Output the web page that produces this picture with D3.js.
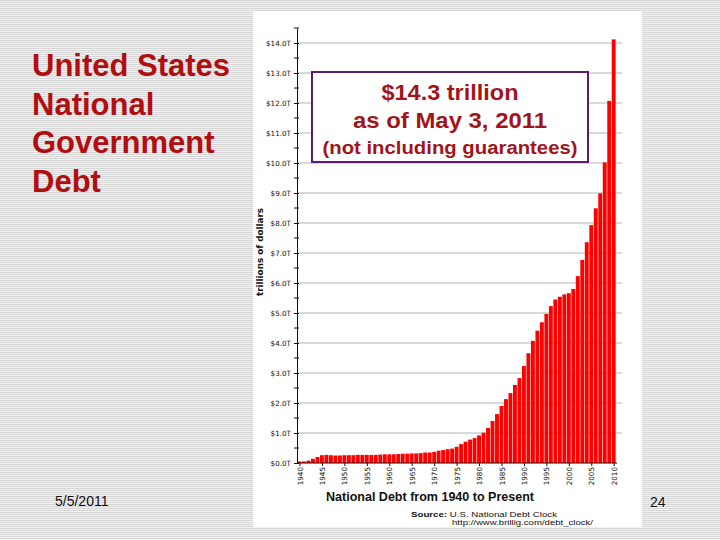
<!DOCTYPE html>
<html>
<head>
<meta charset="utf-8">
<script src="https://cdn.jsdelivr.net/npm/d3@7"></script>
<style>
  html, body { margin: 0; padding: 0; background: #fff; }
  svg { display: block; }
</style>
</head>
<body>
<svg id="chart" width="720" height="540"></svg>
<script>
// ---------- data ----------
const years = [1940,1941,1942,1943,1944,1945,1946,1947,1948,1949,
               1950,1951,1952,1953,1954,1955,1956,1957,1958,1959,
               1960,1961,1962,1963,1964,1965,1966,1967,1968,1969,
               1970,1971,1972,1973,1974,1975,1976,1977,1978,1979,
               1980,1981,1982,1983,1984,1985,1986,1987,1988,1989,
               1990,1991,1992,1993,1994,1995,1996,1997,1998,1999,
               2000,2001,2002,2003,2004,2005,2006,2007,2008,2009,2010];
// national debt, trillions of dollars
const debt = [0.05,0.05,0.08,0.14,0.20,0.26,0.27,0.26,0.25,0.25,
              0.26,0.26,0.26,0.27,0.27,0.27,0.27,0.27,0.28,0.29,
              0.29,0.29,0.30,0.31,0.31,0.32,0.32,0.33,0.35,0.35,
              0.37,0.41,0.43,0.46,0.48,0.54,0.63,0.71,0.78,0.83,
              0.92,1.01,1.17,1.40,1.63,1.90,2.13,2.33,2.60,2.83,
              3.23,3.66,4.07,4.41,4.69,4.97,5.23,5.45,5.54,5.62,
              5.66,5.80,6.23,6.77,7.36,7.93,8.49,8.99,10.02,12.07,14.12];
const yTickValues = [0,1,2,3,4,5,6,7,8,9,10,11,12,13,14];
const yTickLabels = ["$0.0T","$1.0T","$2.0T","$3.0T","$4.0T","$5.0T","$6.0T","$7.0T",
                     "$8.0T","$9.0T","$10.0T","$11.0T","$12.0T","$13.0T","$14.0T"];
const yMinorTicks = [0.5,1.5,2.5,3.5,4.5,5.5,6.5,7.5,8.5,9.5,10.5,11.5,12.5,13.5,14.5];
const xTickYears = [1940,1945,1950,1955,1960,1965,1970,1975,1980,1985,1990,1995,2000,2005,2010];
const slideTitle = ["United States","National","Government","Debt"];
const noteLines = ["$14.3 trillion","as of May 3, 2011","(not including guarantees)"];

// ---------- svg ----------
const svg = d3.select("#chart");
const defs = svg.append("defs");
const pat = defs.append("pattern").attr("id","stripes")
  .attr("width",4).attr("height",2).attr("patternUnits","userSpaceOnUse");
pat.append("rect").attr("width",4).attr("height",2).attr("fill","#f2f2f2");
pat.append("rect").attr("width",4).attr("height",1).attr("fill","#d6d6d6");

svg.append("rect").attr("width",720).attr("height",540).attr("fill","url(#stripes)");

// slide title
const title = svg.append("text")
  .attr("font-family","Liberation Sans, Arial, sans-serif")
  .attr("font-weight","bold").attr("font-size",31).attr("fill","#b40d0f");
slideTitle.forEach((t,i)=>{
  title.append("tspan").attr("x",32).attr("y",76 + i*38.5).text(t);
});

svg.append("text").attr("x",55).attr("y",506)
  .attr("font-family","Liberation Sans, Arial, sans-serif")
  .attr("font-size",14).attr("fill","#111").text("5/5/2011");
svg.append("text").attr("x",650).attr("y",507)
  .attr("font-family","Liberation Sans, Arial, sans-serif")
  .attr("font-size",14).attr("fill","#111").text("24");

// white chart panel
svg.append("rect").attr("x",253).attr("y",11).attr("width",389).attr("height",516)
  .attr("fill","#fff");

// ---------- scales ----------
const x = d3.scaleLinear().domain([1940, 2010]).range([299.5, 613.7]);
const y = d3.scaleLinear().domain([0, 14.5]).range([463, 28]);
const barW = 3.9;

// gridlines
svg.append("g").selectAll("line").data(yTickValues.filter(v=>v>0)).join("line")
  .attr("x1",297).attr("x2",622)
  .attr("y1",d=>y(d)).attr("y2",d=>y(d))
  .attr("stroke","#b5b5b5").attr("stroke-width",1);

// bars
svg.append("g").selectAll("rect").data(years).join("rect")
  .attr("x",(d)=>x(d)-barW/2)
  .attr("width",barW)
  .attr("y",(d,i)=>y(debt[i]))
  .attr("height",(d,i)=>y(0)-y(debt[i]))
  .attr("fill","#ff0000");

// y axis
const yAxis = d3.axisLeft(y).tickValues(yTickValues)
  .tickFormat((d,i)=>yTickLabels[i]).tickSizeInner(3).tickSizeOuter(0).tickPadding(3);
const gy = svg.append("g").attr("transform","translate(297,0)").call(yAxis);
gy.select(".domain").attr("stroke","#111");
gy.selectAll(".tick line").attr("x2",-3).attr("x1",2).attr("stroke","#111");
gy.selectAll("text").attr("font-family","DejaVu Sans, Verdana, sans-serif")
  .attr("font-size",7.2).attr("fill","#111");
gy.append("g").selectAll("line").data(yMinorTicks).join("line")
  .attr("x1",-3).attr("x2",2).attr("y1",d=>y(d)).attr("y2",d=>y(d))
  .attr("stroke","#111");

// x axis
const xAxis = d3.axisBottom(x).tickValues(xTickYears)
  .tickFormat(d3.format("d")).tickSizeInner(3).tickSizeOuter(0);
const gx = svg.append("g").attr("transform","translate(0,463)").call(xAxis);
gx.select(".domain").attr("d","M297,0H617").attr("stroke","#2a0000").attr("stroke-width",1.2);
gx.selectAll(".tick line").attr("stroke","#111");
gx.selectAll("text")
  .attr("font-family","DejaVu Sans, Verdana, sans-serif")
  .attr("font-size",7.2).attr("fill","#111")
  .attr("transform","rotate(-90)")
  .attr("text-anchor","end").attr("x",-4).attr("y",0).attr("dy","0.35em");

// y axis title
svg.append("text")
  .attr("transform","translate(263,252) rotate(-90)")
  .attr("text-anchor","middle")
  .attr("font-family","DejaVu Sans, Verdana, sans-serif")
  .attr("font-weight","bold").attr("font-size",8.5).attr("fill","#111")
  .attr("textLength",88).attr("lengthAdjust","spacingAndGlyphs")
  .text("trillions of dollars");

// chart title
svg.append("text").attr("x",326).attr("y",501)
  .attr("font-family","Liberation Sans, Arial, sans-serif")
  .attr("font-weight","bold").attr("font-size",12.5).attr("fill","#111")
  .attr("textLength",208).attr("lengthAdjust","spacingAndGlyphs")
  .text("National Debt from 1940 to Present");

// source
const src = svg.append("text").attr("x",411).attr("y",517)
  .attr("font-family","Liberation Sans, Arial, sans-serif")
  .attr("font-size",7.5).attr("fill","#111")
  .attr("textLength",146).attr("lengthAdjust","spacingAndGlyphs");
src.append("tspan").attr("font-weight","bold").text("Source:");
src.append("tspan").text(" U.S. National Debt Clock");
svg.append("text").attr("x",452).attr("y",525)
  .attr("font-family","Liberation Sans, Arial, sans-serif")
  .attr("font-size",7.5).attr("fill","#111")
  .attr("textLength",141).attr("lengthAdjust","spacingAndGlyphs")
  .text("http://www.brillig.com/debt_clock/");

// annotation box
svg.append("rect").attr("x",312).attr("y",72).attr("width",276).attr("height",90)
  .attr("fill","#fff").attr("stroke","#5e1a72").attr("stroke-width",2);
const noteY = [99.5, 128, 154];
const noteSize = [22, 22, 18];
const noteLen = [137, 194, 255];
noteLines.forEach((t,i)=>{
  svg.append("text").attr("x",450).attr("y",noteY[i])
    .attr("text-anchor","middle")
    .attr("font-family","Liberation Sans, Arial, sans-serif")
    .attr("font-size",noteSize[i]).attr("font-weight","bold")
    .attr("fill","#a3141a")
    .attr("textLength",noteLen[i]).attr("lengthAdjust","spacingAndGlyphs")
    .text(t);
});
</script>
</body>
</html>
